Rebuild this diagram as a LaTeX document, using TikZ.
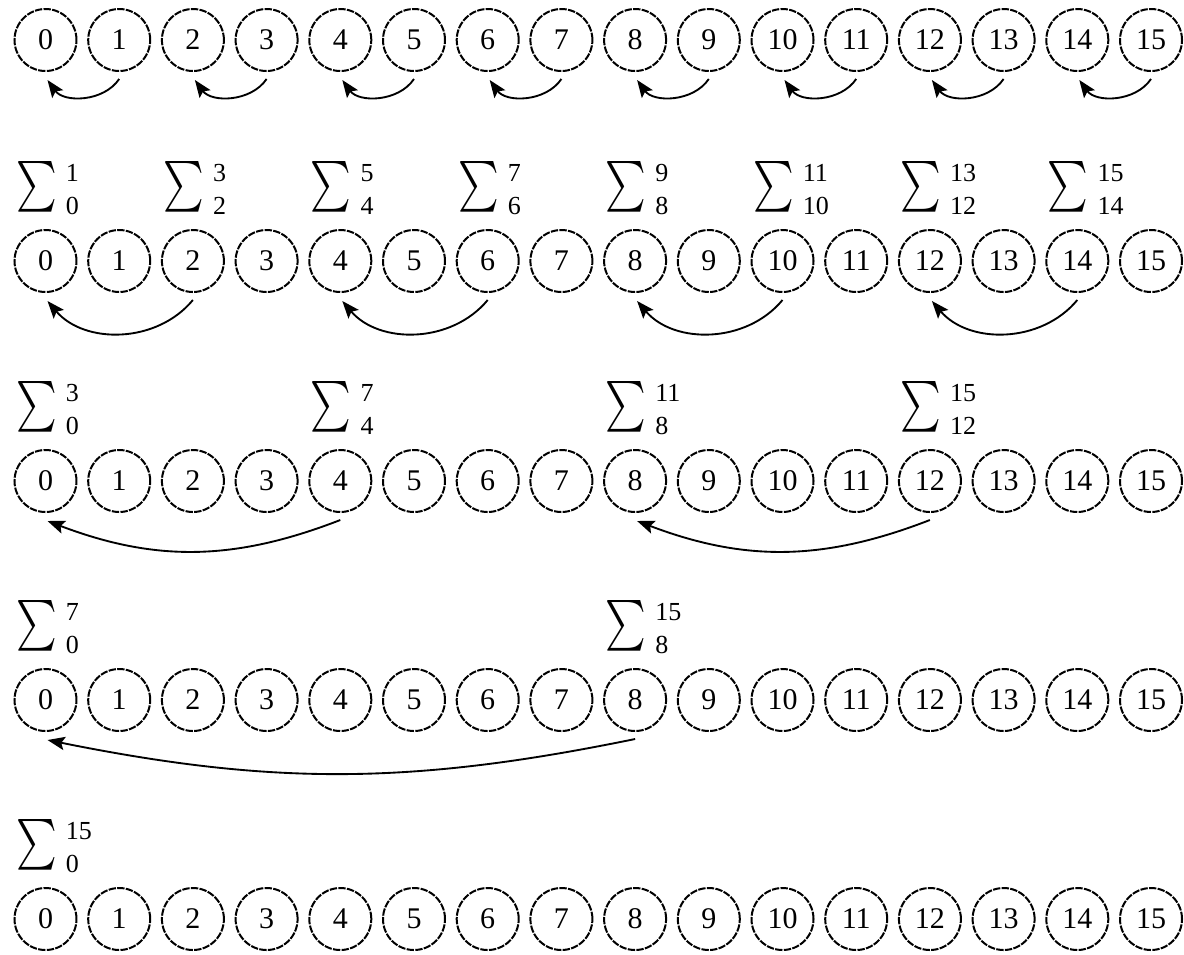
\documentclass[tikz,border=0pt]{standalone}
\usepackage{fontspec}
\setmainfont{Liberation Serif}
\usetikzlibrary{arrows.meta,calc}
\newcommand{\sumlabel}[5]{% name, x of circle centre, row y, lower, upper
  \node[sigbody] (#1) at ({#2-9},{#3-74}) {\resizebox{30.5pt}{28.5pt}{$\sum$}};
  \node[lim, anchor=north west] (#1-hi) at ({#2+20},{#3-74-23}) {#5};
  \node[lim, anchor=south west] (#1-lo) at ({#2+20},{#3-74+28}) {#4};
}
\begin{document}
\begin{tikzpicture}[x=0.75pt,y=-0.75pt,
  cell/.style={circle, draw, line width=1.5pt, dash pattern=on 5.5pt off 1pt,
    minimum size=46.5pt, inner sep=0pt, font=\fontsize{22.5}{26}\selectfont},
  sigbody/.style={inner sep=0pt},
  lim/.style={inner sep=0pt, font=\fontsize{19.5}{22}\selectfont},
  arr/.style={line width=1.4pt, -{Stealth[length=13pt,width=10pt,inset=2.5pt]}}]
\useasboundingbox (0,0) rectangle (1184,954);
% circles
\foreach \r/\y in {0/40,1/261,2/481,3/700,4/919}{
  \foreach \i in {0,...,15}{
    \node[cell] (n\r-\i) at ({45.5+73.7*\i},\y) {\i};
  }
}
% sums, row 1
\foreach \k in {0,...,7}{
  \pgfmathtruncatemacro{\lo}{2*\k}
  \pgfmathtruncatemacro{\hi}{2*\k+1}
  \sumlabel{s1-\k}{45.5+73.7*\lo}{261}{\lo}{\hi}
}
% sums, row 2
\foreach \k in {0,...,3}{
  \pgfmathtruncatemacro{\lo}{4*\k}
  \pgfmathtruncatemacro{\hi}{4*\k+3}
  \sumlabel{s2-\k}{45.5+73.7*\lo}{481}{\lo}{\hi}
}
% sums, row 3
\sumlabel{s3-0}{45.5}{700}{0}{7}
\sumlabel{s3-1}{45.5+73.7*8}{700}{8}{15}
% sums, row 4
\sumlabel{s4-0}{45.5}{919}{0}{15}
% arrows row 0
\foreach \k in {0,...,7}{
  \pgfmathtruncatemacro{\a}{2*\k}
  \pgfmathtruncatemacro{\b}{2*\k+1}
  \draw[arr] ($(n0-\b.south)+(0,7)$) to[bend left=55] ($(n0-\a.south)+(2,8)$);
}
% arrows row 1
\foreach \k in {0,...,3}{
  \pgfmathtruncatemacro{\a}{4*\k}
  \pgfmathtruncatemacro{\b}{4*\k+2}
  \draw[arr] ($(n1-\b.south)+(0,7)$) to[bend left=50] ($(n1-\a.south)+(2,8)$);
}
% arrows row 2
\draw[arr] ($(n2-4.south)+(0,7)$) to[bend left=21] ($(n2-0.south)+(2,8)$);
\draw[arr] ($(n2-12.south)+(0,7)$) to[bend left=21] ($(n2-8.south)+(2,8)$);
% arrows row 3
\draw[arr] ($(n3-8.south)+(0,7)$) to[bend left=11.5] ($(n3-0.south)+(2,8)$);
\end{tikzpicture}
\end{document}
